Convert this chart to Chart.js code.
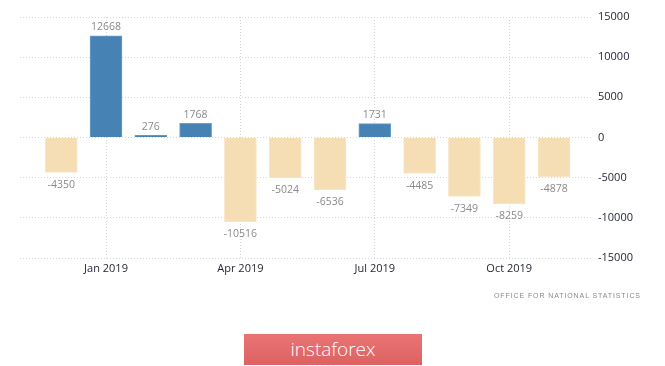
<!DOCTYPE html>
<html>
<head>
<meta charset="utf-8">
<script src="https://cdn.jsdelivr.net/npm/chart.js@4.4.0/dist/chart.umd.min.js"></script>
<style>
  html, body { margin: 0; padding: 0; background: #fff; }
  #wrap { position: relative; width: 665px; height: 366px; overflow: hidden; }
  #grafica { position: absolute; left: 0; top: 0; }
  #fuente {
    position: absolute; left: 494px; top: 292px; white-space: nowrap;
    font: 7px "Liberation Sans", sans-serif; letter-spacing: 0.9px; color: #8a8a8a;
  }
  #boton {
    position: absolute; left: 244px; top: 334px; width: 178px; height: 31px;
    background: linear-gradient(#e97474, #dd6262);
    color: #fff; font: 300 19px "Open Sans", sans-serif;
    text-align: center; line-height: 30px;
  }
</style>
</head>
<body>
<div id="wrap">
  <canvas id="grafica" width="665" height="366"></canvas>
  <div id="fuente">OFFICE FOR NATIONAL STATISTICS</div>
  <div id="boton">instaforex</div>
</div>
<script>
const meses = ["Dec 2018", "Jan 2019", "Feb 2019", "Mar 2019", "Apr 2019", "May 2019",
               "Jun 2019", "Jul 2019", "Aug 2019", "Sep 2019", "Oct 2019", "Nov 2019"];
const valores = [-4350, 12668, 276, 1768, -10516, -5024, -6536, 1731, -4485, -7349, -8259, -4878];
const ticksY = [-15000, -10000, -5000, 0, 5000, 10000, 15000];
const mesesConEtiqueta = [1, 4, 7, 10];

const colorPositivo = "#4682b4";
const colorNegativo = "#f5deb3";

const etiquetasValor = {
    id: "etiquetasValor",
    afterDatasetsDraw(chart) {
        const ctx = chart.ctx;
        const meta = chart.getDatasetMeta(0);
        ctx.save();
        ctx.font = "10.5px 'Open Sans', sans-serif";
        ctx.fillStyle = "#8a8a8a";
        ctx.textAlign = "center";
        meta.data.forEach((bar, i) => {
            const v = valores[i];
            if (v >= 0) {
                ctx.textBaseline = "bottom";
                ctx.fillText(v, bar.x, bar.y - 3);
            } else {
                ctx.textBaseline = "top";
                ctx.fillText(v, bar.x, bar.y + 7);
            }
        });
        ctx.restore();
    }
};

const ctx = document.getElementById("grafica").getContext("2d");

new Chart(ctx, {
    type: "bar",
    data: {
        datasets: [{
            data: valores.map((v, i) => ({ x: i, y: v })),
            backgroundColor: valores.map(v => v >= 0 ? colorPositivo : colorNegativo),
            borderColor: valores.map(v => v >= 0 ? "#6f9fca" : "#f8e6c6"),
            borderWidth: 1,
            barThickness: 32
        }]
    },
    options: {
        responsive: false,
        animation: false,
        layout: { padding: { left: 20, right: 27, top: 17, bottom: 88 } },
        plugins: {
            legend: { display: false },
            tooltip: { enabled: false }
        },
        scales: {
            x: {
                type: "linear",
                offset: false,
                min: -0.92,
                max: 11.87,
                afterBuildTicks: scale => {
                    scale.ticks = mesesConEtiqueta.map(v => ({ value: v }));
                },
                afterFit: scale => { scale.height = 20; },
                ticks: {
                    callback: v => meses[v],
                    color: "#1e2230",
                    font: { size: 11, family: "'Open Sans', sans-serif" },
                    padding: 4,
                    maxRotation: 0
                },
                grid: { color: "#d6d6d6", drawTicks: false, offset: false },
                border: { display: false, dash: [1, 2] }
            },
            y: {
                position: "right",
                min: -15000,
                max: 15000,
                afterBuildTicks: scale => {
                    scale.ticks = ticksY.map(v => ({ value: v }));
                },
                afterFit: scale => { scale.width = 45; },
                ticks: {
                    callback: v => String(v),
                    color: "#1e2230",
                    font: { size: 11, family: "'Open Sans', sans-serif" },
                    padding: 5
                },
                grid: { color: "#d6d6d6", drawTicks: false },
                border: { display: false, dash: [1, 2] }
            }
        }
    },
    plugins: [etiquetasValor]
});
</script>
</body>
</html>
